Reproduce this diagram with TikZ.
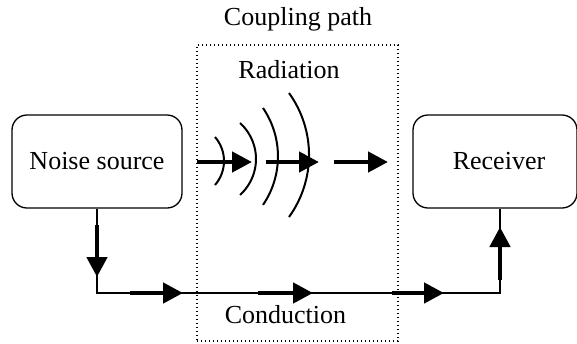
\documentclass[tikz,border=0pt]{standalone}
\usepackage{fontspec}
\setmainfont{Liberation Serif}
\usetikzlibrary{arrows.meta}
\begin{document}
\begin{tikzpicture}[x=1pt,y=-1pt,
  box/.style={draw,line width=1.3pt,rounded corners=15pt,minimum width=170pt,minimum height=93pt,inner sep=0pt,font=\fontsize{26}{30}\selectfont},
  lbl/.style={font=\fontsize{26}{30}\selectfont,anchor=base,inner sep=0pt},
  wire/.style={line width=1.3pt},
  fat/.style={line width=4.5pt,-{Triangle[length=20pt,width=20pt]}},
  wave/.style={line width=2pt},
  region/.style={draw,line width=1.3pt,dash pattern=on 1.3pt off 2.7pt,minimum width=201pt,minimum height=296pt,inner sep=0pt}]
\useasboundingbox (0,0) rectangle (577,343);
\node[region] (cp) at (297.5,193) {};
\node[box] (ns) at (97,161.5) {Noise source};
\node[box,minimum width=164pt] (rx) at (495,161.5) {\hspace*{8pt}Receiver};
\node[lbl] (t1) at (298,25.5) {Coupling path};
\node[lbl] (t2) at (289,78) {Radiation};
\node[lbl] (t3) at (285.5,323) {Conduction};
% conduction wire
\coordinate (c1) at (97,293);
\coordinate (c4) at (500,293);
\draw[wire] (ns.south) -- (c1) -- (c4) -- (c4 |- rx.south);
% thick arrows on conduction path
\coordinate (d1) at (97,225); \coordinate (d2) at (97,277);
\coordinate (h1a) at (130,293); \coordinate (h1b) at (183,293);
\coordinate (h2a) at (258,293); \coordinate (h2b) at (313,293);
\coordinate (h3a) at (392,293); \coordinate (h3b) at (444,293);
\coordinate (u1) at (500,280); \coordinate (u2) at (500,227);
\draw[fat] (d1) -- (d2);
\draw[fat] (h1a) -- (h1b);
\draw[fat] (h2a) -- (h2b);
\draw[fat] (h3a) -- (h3b);
\draw[fat] (u1) -- (u2);
% radiation waves
\draw[wave] (215,137) arc[start angle=-41.1,end angle=41.1,radius=36.5];
\draw[wave] (240,123) arc[start angle=-47.9,end angle=47.9,radius=48.5];
\draw[wave] (263,108) arc[start angle=-34.3,end angle=34.3,radius=86];
\draw[wave] (289,93) arc[start angle=-35.8,end angle=35.8,radius=106];
% radiation arrows
\coordinate (r1a) at (197,162); \coordinate (r1b) at (252,162);
\coordinate (r2a) at (266,162); \coordinate (r2b) at (319,162);
\coordinate (r3a) at (334,162); \coordinate (r3b) at (388,162);
\draw[fat] (r1a) -- (r1b);
\draw[fat] (r2a) -- (r2b);
\draw[fat] (r3a) -- (r3b);
\end{tikzpicture}
\end{document}
